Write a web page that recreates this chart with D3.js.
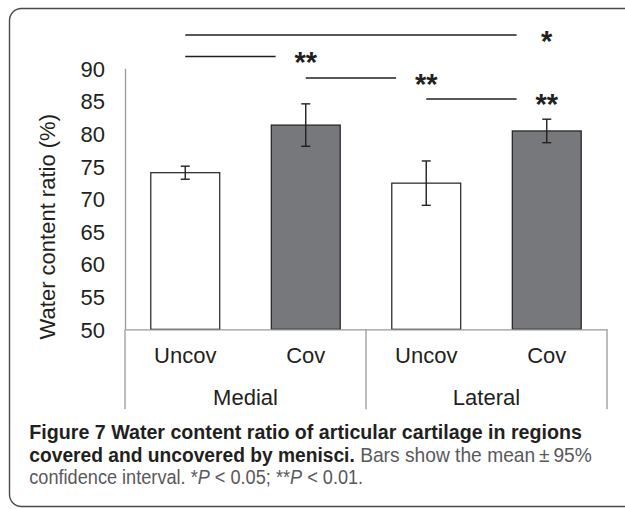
<!DOCTYPE html>
<meta charset="utf-8">
<title>Figure 7</title>
<style>
body { margin: 0; background: #fff; }
svg { display: block; }
.chart text { font-family: "Liberation Sans", Arial, sans-serif; fill: #231f20; }
.axis .domain { stroke: #9a9a9a; stroke-width: 1.3; }
.caption text { font-family: "Liberation Sans Narrow", "Liberation Sans", sans-serif; }
</style>
<body>
<script src="https://d3js.org/d3.v7.min.js"></script>
<script>

// data
var categories = ["Uncov", "Cov", "Uncov", "Cov"];
var groups = ["Medial", "Lateral"];
var means = [74.0, 81.3, 72.4, 80.4];
var ciHalf = [1.0, 3.25, 3.4, 1.8];
var covered = [false, true, false, true];
var yTicks = [50, 55, 60, 65, 70, 75, 80, 85, 90];

// significance brackets: bar index pairs, height (in % units), label
var cmpFrom = [0, 0, 1, 2];
var cmpTo = [3, 1, 2, 3];
var cmpLevel = [95.1, 91.8, 88.5, 85.3];
var cmpLabel = ["*", "**", "**", "**"];

var W = 625, H = 509;

var svg = d3.select("body").append("svg")
    .attr("width", W)
    .attr("height", H);

// rounded frame (right side runs off the page)
svg.append("rect")
    .attr("x", 9.5)
    .attr("y", 8.5)
    .attr("width", 700)
    .attr("height", 498)
    .attr("rx", 12)
    .style("fill", "none")
    .style("stroke", "#4a4a4a")
    .style("stroke-width", 1.4);

var chart = svg.append("g").attr("class", "chart");

var x = d3.scaleBand()
    .domain(d3.range(categories.length))
    .range([125, 607])
    .paddingInner(0.428)
    .paddingOuter(0.214);

var y = d3.scaleLinear()
    .domain([50, 90])
    .range([329.3, 68.3]);

var cx = function(i) { return x(i) + x.bandwidth() / 2; };

// y axis
var yAxis = chart.append("g")
    .attr("class", "axis")
    .attr("transform", "translate(" + x.range()[0] + ",0)")
    .call(d3.axisLeft(y).tickValues(yTicks).tickSize(0).tickPadding(20));
yAxis.selectAll("text")
    .style("font-size", "22px")
    .attr("dy", "0.36em");

chart.append("text")
    .attr("transform", "translate(55,226.7) rotate(-90)")
    .style("text-anchor", "middle")
    .style("font-size", "22px")
    .text("Water content ratio (%)");

// bars
chart.selectAll(".bar")
    .data(means)
  .enter().append("rect")
    .attr("class", "bar")
    .attr("x", function(d, i) { return x(i); })
    .attr("width", x.bandwidth())
    .attr("y", function(d) { return y(d); })
    .attr("height", function(d) { return y(50) - y(d); })
    .style("fill", function(d, i) { return covered[i] ? "#77787b" : "#fff"; })
    .style("stroke", "#231f20")
    .style("stroke-width", 1.2);

// error bars
var err = chart.selectAll(".err")
    .data(means)
  .enter().append("g")
    .attr("class", "err")
    .style("stroke", "#231f20")
    .style("stroke-width", 1.4);
err.append("line")
    .attr("x1", function(d, i) { return cx(i); })
    .attr("x2", function(d, i) { return cx(i); })
    .attr("y1", function(d, i) { return y(d + ciHalf[i]); })
    .attr("y2", function(d, i) { return y(d - ciHalf[i]); });
[1, -1].forEach(function(s) {
  err.append("line")
      .attr("x1", function(d, i) { return cx(i) - 4.5; })
      .attr("x2", function(d, i) { return cx(i) + 4.5; })
      .attr("y1", function(d, i) { return y(d + s * ciHalf[i]); })
      .attr("y2", function(d, i) { return y(d + s * ciHalf[i]); });
});

// x axis: baseline, category labels, group separators
var xAxis = chart.append("g")
    .attr("class", "axis")
    .attr("transform", "translate(0," + y(50) + ")")
    .call(d3.axisBottom(x).tickSize(0).tickPadding(18.4)
      .tickFormat(function(i) { return categories[i]; }));
xAxis.selectAll("text").style("font-size", "22px");

var step = x.step();
var bounds = [x.range()[0], (cx(1) + cx(2)) / 2, x.range()[1]];
chart.selectAll(".sep")
    .data(bounds)
  .enter().append("line")
    .attr("class", "sep")
    .attr("x1", function(d) { return d; })
    .attr("x2", function(d) { return d; })
    .attr("y1", y(50))
    .attr("y2", y(50) + 80)
    .style("stroke", "#9a9a9a")
    .style("stroke-width", 1.3);

chart.selectAll(".grp")
    .data(groups)
  .enter().append("text")
    .attr("class", "grp")
    .attr("x", function(d, i) { return (bounds[i] + bounds[i + 1]) / 2; })
    .attr("y", 404.6)
    .style("text-anchor", "middle")
    .style("font-size", "22px")
    .text(function(d) { return d; });

// significance brackets
cmpFrom.forEach(function(f, k) {
  var t = cmpTo[k];
  chart.append("line")
      .attr("x1", cx(f))
      .attr("x2", cx(t) - step / 4)
      .attr("y1", y(cmpLevel[k]))
      .attr("y2", y(cmpLevel[k]))
      .style("stroke", "#231f20")
      .style("stroke-width", 1.5);
  chart.append("text")
      .attr("x", cx(t))
      .attr("y", y(cmpLevel[k]) + 15.5)
      .style("text-anchor", "middle")
      .style("font-size", "29px")
      .style("font-weight", "bold")
      .text(cmpLabel[k]);
});

// caption
var cap = svg.append("g").attr("class", "caption");
var capLines = [
  {y: 439.3, w: 553, parts: [{t: "Figure 7 Water content ratio of articular cartilage in regions", b: true}]},
  {y: 461.7, w: 563, parts: [{t: "covered and uncovered by menisci.", b: true}, {t: " Bars show the mean\u2009\u00b1\u200995%"}]},
  {y: 484, w: 334, parts: [{t: "confidence interval. *"}, {t: "P", i: true}, {t: " < 0.05; **"}, {t: "P", i: true}, {t: " < 0.01."}]}
];
capLines.forEach(function(line) {
  var g = cap.append("g");
  var txt = g.append("text")
      .attr("x", 0)
      .attr("y", 0)
      .style("font-size", "19.5px");
  line.parts.forEach(function(p) {
    txt.append("tspan")
        .style("font-weight", p.b ? "bold" : "normal")
        .style("font-style", p.i ? "italic" : "normal")
        .style("fill", p.b ? "#231f20" : "#58595b")
        .text(p.t);
  });
  var bw = txt.node().getComputedTextLength();
  g.attr("transform", "translate(29.3," + line.y + ") scale(" + (line.w / bw) + ",1)");
});

</script>
</body>
